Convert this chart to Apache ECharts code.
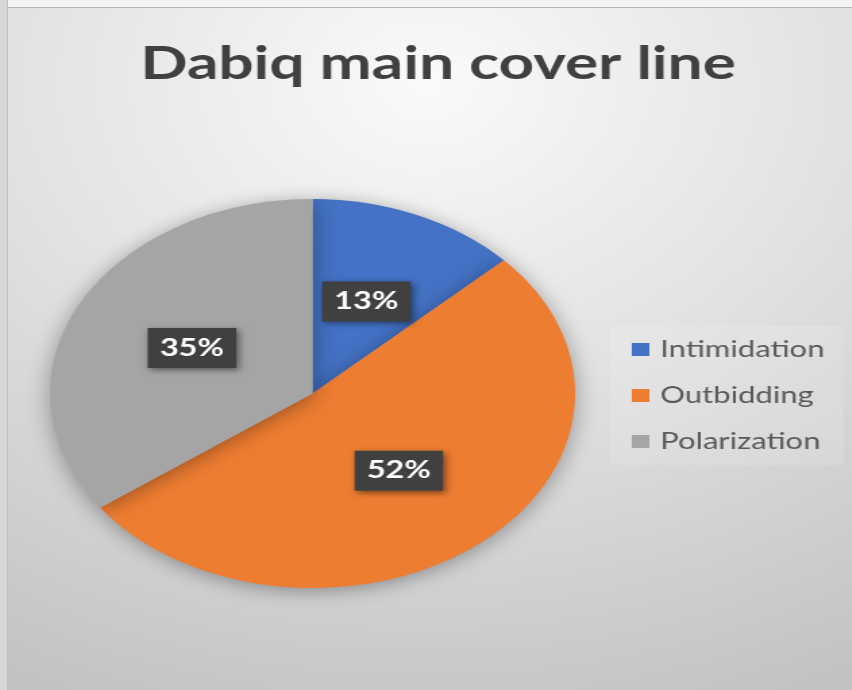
<!DOCTYPE html>
<html>
<head>
<meta charset="utf-8">
<script src="https://cdn.jsdelivr.net/npm/echarts@6/dist/echarts.min.js"></script>
<style>
  html, body { margin: 0; padding: 0; width: 852px; height: 690px; overflow: hidden; background: #e4e4e4; }
  #wrap { position: absolute; left: 0; top: 0; width: 631px; height: 690px; transform: scaleX(1.35); transform-origin: 0 0; }
  #topstrip { position: absolute; left: 0; top: 0; width: 852px; height: 7px; background: #f4f4f4; border-bottom: 1px solid #b4b4b4; z-index: 2; }
  #leftstrip { position: absolute; left: 0; top: 0; width: 7px; height: 690px; background: #d6d6d6; border-right: 1px solid #c0c0c0; z-index: 2; }
</style>
</head>
<body>
<div id="wrap"></div>
<div id="topstrip"></div>
<div id="leftstrip"></div>
<script>
const titleText = 'Dabiq main cover line';
const categories = ['Intimidation', 'Outbidding', 'Polarization'];
const values = [13, 52, 35];
const colors = ['#4472C4', '#ED7D31', '#A5A5A5'];

const chart = echarts.init(document.getElementById('wrap'), null, { renderer: 'canvas' });
chart.setOption({
  animation: false,
  backgroundColor: {
    type: 'radial', x: 0.5, y: 0.12, r: 1.1,
    colorStops: [
      { offset: 0, color: '#fafafa' },
      { offset: 0.45, color: '#e2e2e2' },
      { offset: 1, color: '#c0c0c0' }
    ]
  },
  color: colors,
  title: {
    text: titleText,
    left: 99,
    top: 36,
    padding: 5,
    textStyle: { fontFamily: 'Lato', fontWeight: 'bold', fontSize: 46, color: '#404040' }
  },
  legend: {
    orient: 'vertical',
    left: 452,
    top: 326,
    itemWidth: 13,
    itemHeight: 13,
    itemGap: 23,
    icon: 'rect',
    backgroundColor: 'rgba(255,255,255,0.12)',
    padding: [12, 14, 12, 16],
    textStyle: { fontFamily: 'Lato', fontSize: 23, color: '#595959', lineHeight: 20, padding: [0, 0, 0, 3] },
    data: categories
  },
  series: [{
    type: 'pie',
    center: [231.5, 393.5],
    radius: [0, 194.5],
    startAngle: 90,
    clockwise: true,
    avoidLabelOverlap: false,
    itemStyle: { borderWidth: 0, shadowBlur: 18, shadowColor: 'rgba(0,0,0,0.35)', shadowOffsetY: 3 },
    label: {
      show: true,
      position: 'inside',
      formatter: '{c}%',
      fontFamily: 'Lato',
      fontWeight: 'bold',
      fontSize: 24,
      lineHeight: 24,
      color: '#ffffff',
      backgroundColor: '#404040',
      padding: [8, 9],
      shadowBlur: 6,
      shadowColor: 'rgba(0,0,0,0.5)',
      shadowOffsetX: 2,
      shadowOffsetY: 2
    },
    labelLine: { show: false },
    emphasis: { disabled: true },
    data: categories.map((name, i) => ({ name, value: values[i] }))
  }]
});
</script>
</body>
</html>
